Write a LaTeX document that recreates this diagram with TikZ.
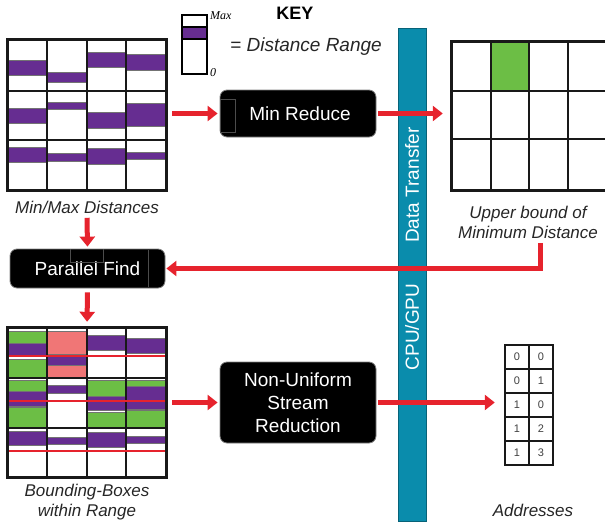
\documentclass[tikz,border=0pt]{standalone}
\usepackage{fontspec}
\setmainfont{Liberation Sans}
\newfontfamily\serifit{Liberation Serif}
\usetikzlibrary{arrows.meta,calc}
\definecolor{vio}{RGB}{102,45,145}
\definecolor{grn}{RGB}{108,190,69}
\definecolor{pnk}{RGB}{240,118,118}
\definecolor{barblue}{RGB}{10,140,172}
\definecolor{arrred}{RGB}{230,35,45}
\newcommand{\blk}[5]{\filldraw[fill=#5,draw=black!55,line width=0.7pt] (#1,#3) rectangle (#2,#4);}
\tikzset{
  redarrow/.style={draw=arrred, line width=5pt, -{Triangle[length=10pt,width=15pt]}},
  procbox/.style={fill=black, draw=black!50, line width=0.8pt, rounded corners=7pt, text=white,
    font=\fontsize{19}{23}\selectfont, align=center, inner sep=0pt},
  gridnode/.style={fill=white, inner sep=0pt},
  gridframe/.style={draw=black!90, line width=3pt},
  cellline/.style={draw=black!90, line width=2pt},
  caption/.style={font=\fontsize{17}{20}\selectfont\itshape, align=center, text=black!85},
  redline/.style={draw=arrred, line width=2.5pt},
  barbox/.style={fill=barblue, draw=barblue!70!black, line width=0.6pt, inner sep=0pt},
  bartext/.style={text=white, font=\fontsize{19}{22}\selectfont},
  tabtext/.style={font=\fontsize{11}{13}\selectfont, text=black!75},
  innerline/.style={draw=black!70!white, line width=0.8pt},
}
\begin{document}
\begin{tikzpicture}[x=1pt,y=-1pt]
\useasboundingbox (0,0) rectangle (605,525);

% CPU/GPU bar
\node[barbox, minimum width=28pt, minimum height=493pt] (bar) at (412,274.5) {};
\node[bartext, rotate=90] (dt) at (412,185) {Data Transfer};
\node[bartext, rotate=90] (cg) at (412,327) {CPU/GPU};

% KEY
\node[fill=white, inner sep=0pt, minimum width=25pt, minimum height=59pt] (key) at (194.5,44.5) {};
\filldraw[fill=vio, draw=black, line width=1.2pt] (182,27) rectangle (207,39);
\draw[black, line width=2.5pt] (key.north west) rectangle (key.south east);
\node[anchor=west, font=\fontsize{12}{14}\selectfont\serifit\itshape, inner sep=0pt] (kmax) at (210,16) {Max};
\node[anchor=west, font=\fontsize{12}{14}\selectfont\serifit\itshape, inner sep=0pt] (kzero) at (210,73) {0};
\node[font=\fontsize{18}{21}\selectfont\bfseries] (keyt) at (295,13) {KEY};
\node[font=\fontsize{19}{22}\selectfont\itshape, text=black!85] (keyd) at (306,47) {= Distance Range};

% Grid 1: Min/Max distances
\node[gridnode, minimum width=158pt, minimum height=150pt] (g1) at (87,115) {};
\blk{8}{47}{60}{75}{vio}
\blk{47}{87}{72}{82}{vio}
\blk{87}{126}{52}{67}{vio}
\blk{126}{166}{54}{70}{vio}
\blk{8}{47}{108}{123}{vio}
\blk{47}{87}{102}{109}{vio}
\blk{87}{126}{112}{128}{vio}
\blk{126}{166}{103}{126}{vio}
\blk{8}{47}{147}{162}{vio}
\blk{47}{87}{153}{161}{vio}
\blk{87}{126}{148}{164}{vio}
\blk{126}{166}{152}{159}{vio}
\draw[cellline] (47,40)--(47,190) (87,40)--(87,190) (126,40)--(126,190)
  (8,91)--(166,91) (8,140)--(166,140);
\draw[gridframe] (g1.north west) rectangle (g1.south east);
\node[caption] (cap1) at (87,207) {Min/Max Distances};

% Min Reduce
\node[procbox, minimum width=156pt, minimum height=47pt] (mr) at (298,113.5) {\hspace*{4pt}Min Reduce};
\draw[innerline] (220,99) rectangle (235,132);

% Grid 2: upper bound
\node[gridnode, minimum width=154pt, minimum height=149pt] (g2) at (528,115.5) {};
\fill[grn] (491,41) rectangle (529,91);
\draw[cellline] (491,41)--(491,190) (529,41)--(529,190) (568,41)--(568,190)
  (451,91)--(605,91) (451,139)--(605,139);
\draw[gridframe] (605,41) -- (451,41) -- (451,190) -- (605,190);
\node[caption] (cap2) at (528,222) {Upper bound of\\Minimum Distance};

% Parallel Find
\node[procbox, minimum width=155pt, minimum height=39pt] (pf) at (87.5,268.5) {Parallel Find};
\draw[innerline] (148,250) -- (148,287);
\draw[innerline] (70,249) -- (70,262) -- (103,262) -- (103,249);

% Grid 3: bounding boxes
\node[gridnode, minimum width=158pt, minimum height=149pt] (g3) at (87,402.5) {};
\blk{8}{47}{331}{343}{grn}
\blk{8}{47}{343}{356}{vio}
\blk{8}{47}{359}{377}{grn}
\blk{47}{87}{331}{354}{pnk}
\blk{47}{87}{354}{365}{vio}
\blk{47}{87}{365}{377}{pnk}
\blk{87}{126}{335}{350}{vio}
\blk{126}{166}{338}{353}{vio}
\blk{8}{47}{380}{391}{grn}
\blk{8}{47}{391}{406}{vio}
\blk{8}{47}{407}{427}{grn}
\blk{47}{87}{385}{393}{vio}
\blk{87}{126}{380}{396}{grn}
\blk{87}{126}{396}{410}{vio}
\blk{87}{126}{412}{427}{grn}
\blk{126}{166}{380}{386}{grn}
\blk{126}{166}{386}{409}{vio}
\blk{126}{166}{410}{427}{grn}
\blk{8}{47}{431}{445}{vio}
\blk{47}{87}{437}{444}{vio}
\blk{87}{126}{432}{447}{vio}
\blk{126}{166}{436}{443}{vio}
\draw[cellline] (47,328)--(47,477) (87,328)--(87,477) (126,328)--(126,477)
  (8,378)--(166,378) (8,428)--(166,428);
\draw[gridframe] (g3.north west) rectangle (g3.south east);
\draw[redline] (9,356) -- (165,356);
\draw[redline] (9,401) -- (165,401);
\draw[redline] (9,451) -- (165,451);
\node[caption] (cap3) at (87,502) {Bounding-Boxes\\within Range};

% Non-Uniform Stream Reduction
\node[procbox, minimum width=156pt, minimum height=81pt] (nu) at (298,402.5) {Non-Uniform\\Stream\\Reduction};

% Addresses table
\node[gridnode, minimum width=48pt, minimum height=120pt] (tbl) at (529,405) {};
\draw[black!90, line width=1.5pt] (529,345)--(529,465) (505,369)--(553,369) (505,393)--(553,393)
  (505,417)--(553,417) (505,441)--(553,441);
\draw[black!90, line width=2.5pt] (tbl.north west) rectangle (tbl.south east);
\node[tabtext] (t11) at (517,357) {0}; \node[tabtext] (t12) at (541,357) {0};
\node[tabtext] (t21) at (517,381) {0}; \node[tabtext] (t22) at (541,381) {1};
\node[tabtext] (t31) at (517,405) {1}; \node[tabtext] (t32) at (541,405) {0};
\node[tabtext] (t41) at (517,429) {1}; \node[tabtext] (t42) at (541,429) {2};
\node[tabtext] (t51) at (517,453) {1}; \node[tabtext] (t52) at (541,453) {3};
\node[caption] (cap4) at (533,510) {Addresses};

% Arrows
\coordinate (turn) at (540,268.5);
\draw[redarrow, shorten <=6pt, shorten >=2pt] (g1.east |- mr.west) -- (mr.west);
\draw[redarrow, shorten <=2pt, shorten >=8pt] (mr.east) -- (g2.west |- mr.east);
\draw[redarrow, shorten <=1pt, shorten >=1pt] (cap2.south -| turn) -- (turn) -- (pf.east);
\draw[redarrow, shorten <=1pt, shorten >=2pt] (cap1.south) -- (pf.north);
\draw[redarrow, shorten <=4pt, shorten >=6pt] (pf.south) -- (g3.north);
\draw[redarrow, shorten <=6pt, shorten >=2pt] (g3.east |- nu.west) -- (nu.west);
\draw[redarrow, shorten <=2pt, shorten >=10pt] (nu.east) -- (tbl.west |- nu.east);
\end{tikzpicture}
\end{document}
